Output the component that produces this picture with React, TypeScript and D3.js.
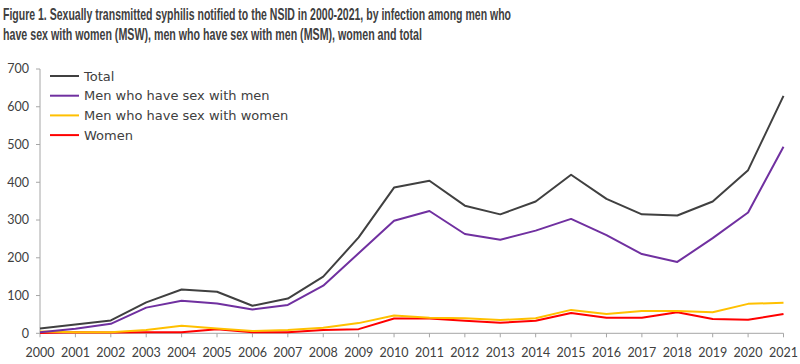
import React from 'react';
import * as d3 from 'd3';

const years = d3.range(2000, 2022);
const total = [13, 23, 34, 82, 116, 110, 73, 92, 150, 254, 386, 404, 338, 315, 349, 420, 356, 315, 312, 349, 432, 629];
const msm = [3, 12, 25, 68, 86, 79, 63, 75, 126, 212, 298, 324, 263, 248, 272, 303, 260, 210, 189, 252, 320, 494];
const msw = [5, 3, 3, 9, 20, 13, 6, 9, 15, 27, 47, 41, 40, 35, 40, 62, 51, 59, 59, 56, 78, 81];
const women = [1, 3, 2, 3, 3, 11, 3, 3, 9, 11, 39, 39, 33, 28, 33, 54, 41, 41, 56, 38, 36, 51];
const yTicks = [0, 100, 200, 300, 400, 500, 600, 700];

const series = [
  { name: 'Total', values: total, color: '#404040' },
  { name: 'Men who have sex with men', values: msm, color: '#7030A0' },
  { name: 'Men who have sex with women', values: msw, color: '#FFC000' },
  { name: 'Women', values: women, color: '#FF0000' },
];

const titleLines = [
  'Figure 1. Sexually transmitted syphilis notified to the NSID in 2000-2021, by infection among men who',
  'have sex  with women (MSW),  men who have sex with men (MSM),  women and total',
];

export default function App() {
  const width = 800;
  const height = 364;
  const x = d3.scaleLinear().domain([2000, 2021]).range([40, 783.5]);
  const y = d3.scaleLinear().domain([0, 700]).range([333.3, 69]);
  const line = d3.line<number>()
    .x((_, i) => x(years[i]))
    .y(d => y(d));
  const axisColor = '#A6A6A6';
  const textColor = '#404040';
  const font = 'Lato, "DejaVu Sans", sans-serif';
  const titleFont = "'Liberation Sans Narrow', 'Liberation Sans', sans-serif";

  return (
    <svg width={width} height={height} style={{ position: 'absolute', left: 0, top: 0, background: '#fff' }}>
      <text x={3} y={19.5} fontFamily={titleFont} fontWeight="bold"
        fontSize={16.5} fill={textColor} textLength={508} lengthAdjust="spacingAndGlyphs">{titleLines[0]}</text>
      <text x={3} y={39.5} fontFamily={titleFont} fontWeight="bold"
        fontSize={16.5} fill={textColor} textLength={419} lengthAdjust="spacingAndGlyphs">{titleLines[1]}</text>

      {/* y axis */}
      <line x1={x(2000)} x2={x(2000)} y1={y(700)} y2={y(0)} stroke={axisColor} strokeWidth={1} />
      {yTicks.map(t => (
        <g key={t}>
          <line x1={x(2000) - 4} x2={x(2000)} y1={y(t)} y2={y(t)} stroke={axisColor} />
          <text x={29} y={y(t)} dy="0.35em" textAnchor="end" fontFamily={font} fontSize={12.5} fill={textColor}>{t}</text>
        </g>
      ))}

      {/* x axis */}
      <line x1={x(2000)} x2={x(2021)} y1={y(0)} y2={y(0)} stroke={axisColor} strokeWidth={1} />
      {years.map(yr => (
        <g key={yr}>
          <line x1={x(yr)} x2={x(yr)} y1={y(0)} y2={y(0) + 4} stroke={axisColor} />
          <text x={x(yr)} y={357} textAnchor="middle" fontFamily={font} fontSize={12.5} fill={textColor}>{yr}</text>
        </g>
      ))}

      {/* lines, drawn bottom-up so total is on top */}
      {[...series].reverse().map(s => (
        <path key={s.name} d={line(s.values) || ''} fill="none" stroke={s.color} strokeWidth={2} strokeLinejoin="round" />
      ))}

      {/* legend */}
      {series.map((s, i) => (
        <g key={s.name} transform={`translate(50, ${76 + i * 19.7})`}>
          <line x1={0} x2={29} y1={0} y2={0} stroke={s.color} strokeWidth={2} />
          <text x={34} y={0} dy="0.35em" fontFamily="'DejaVu Sans', sans-serif" fontSize={13} fill={textColor}>{s.name}</text>
        </g>
      ))}
    </svg>
  );
}
